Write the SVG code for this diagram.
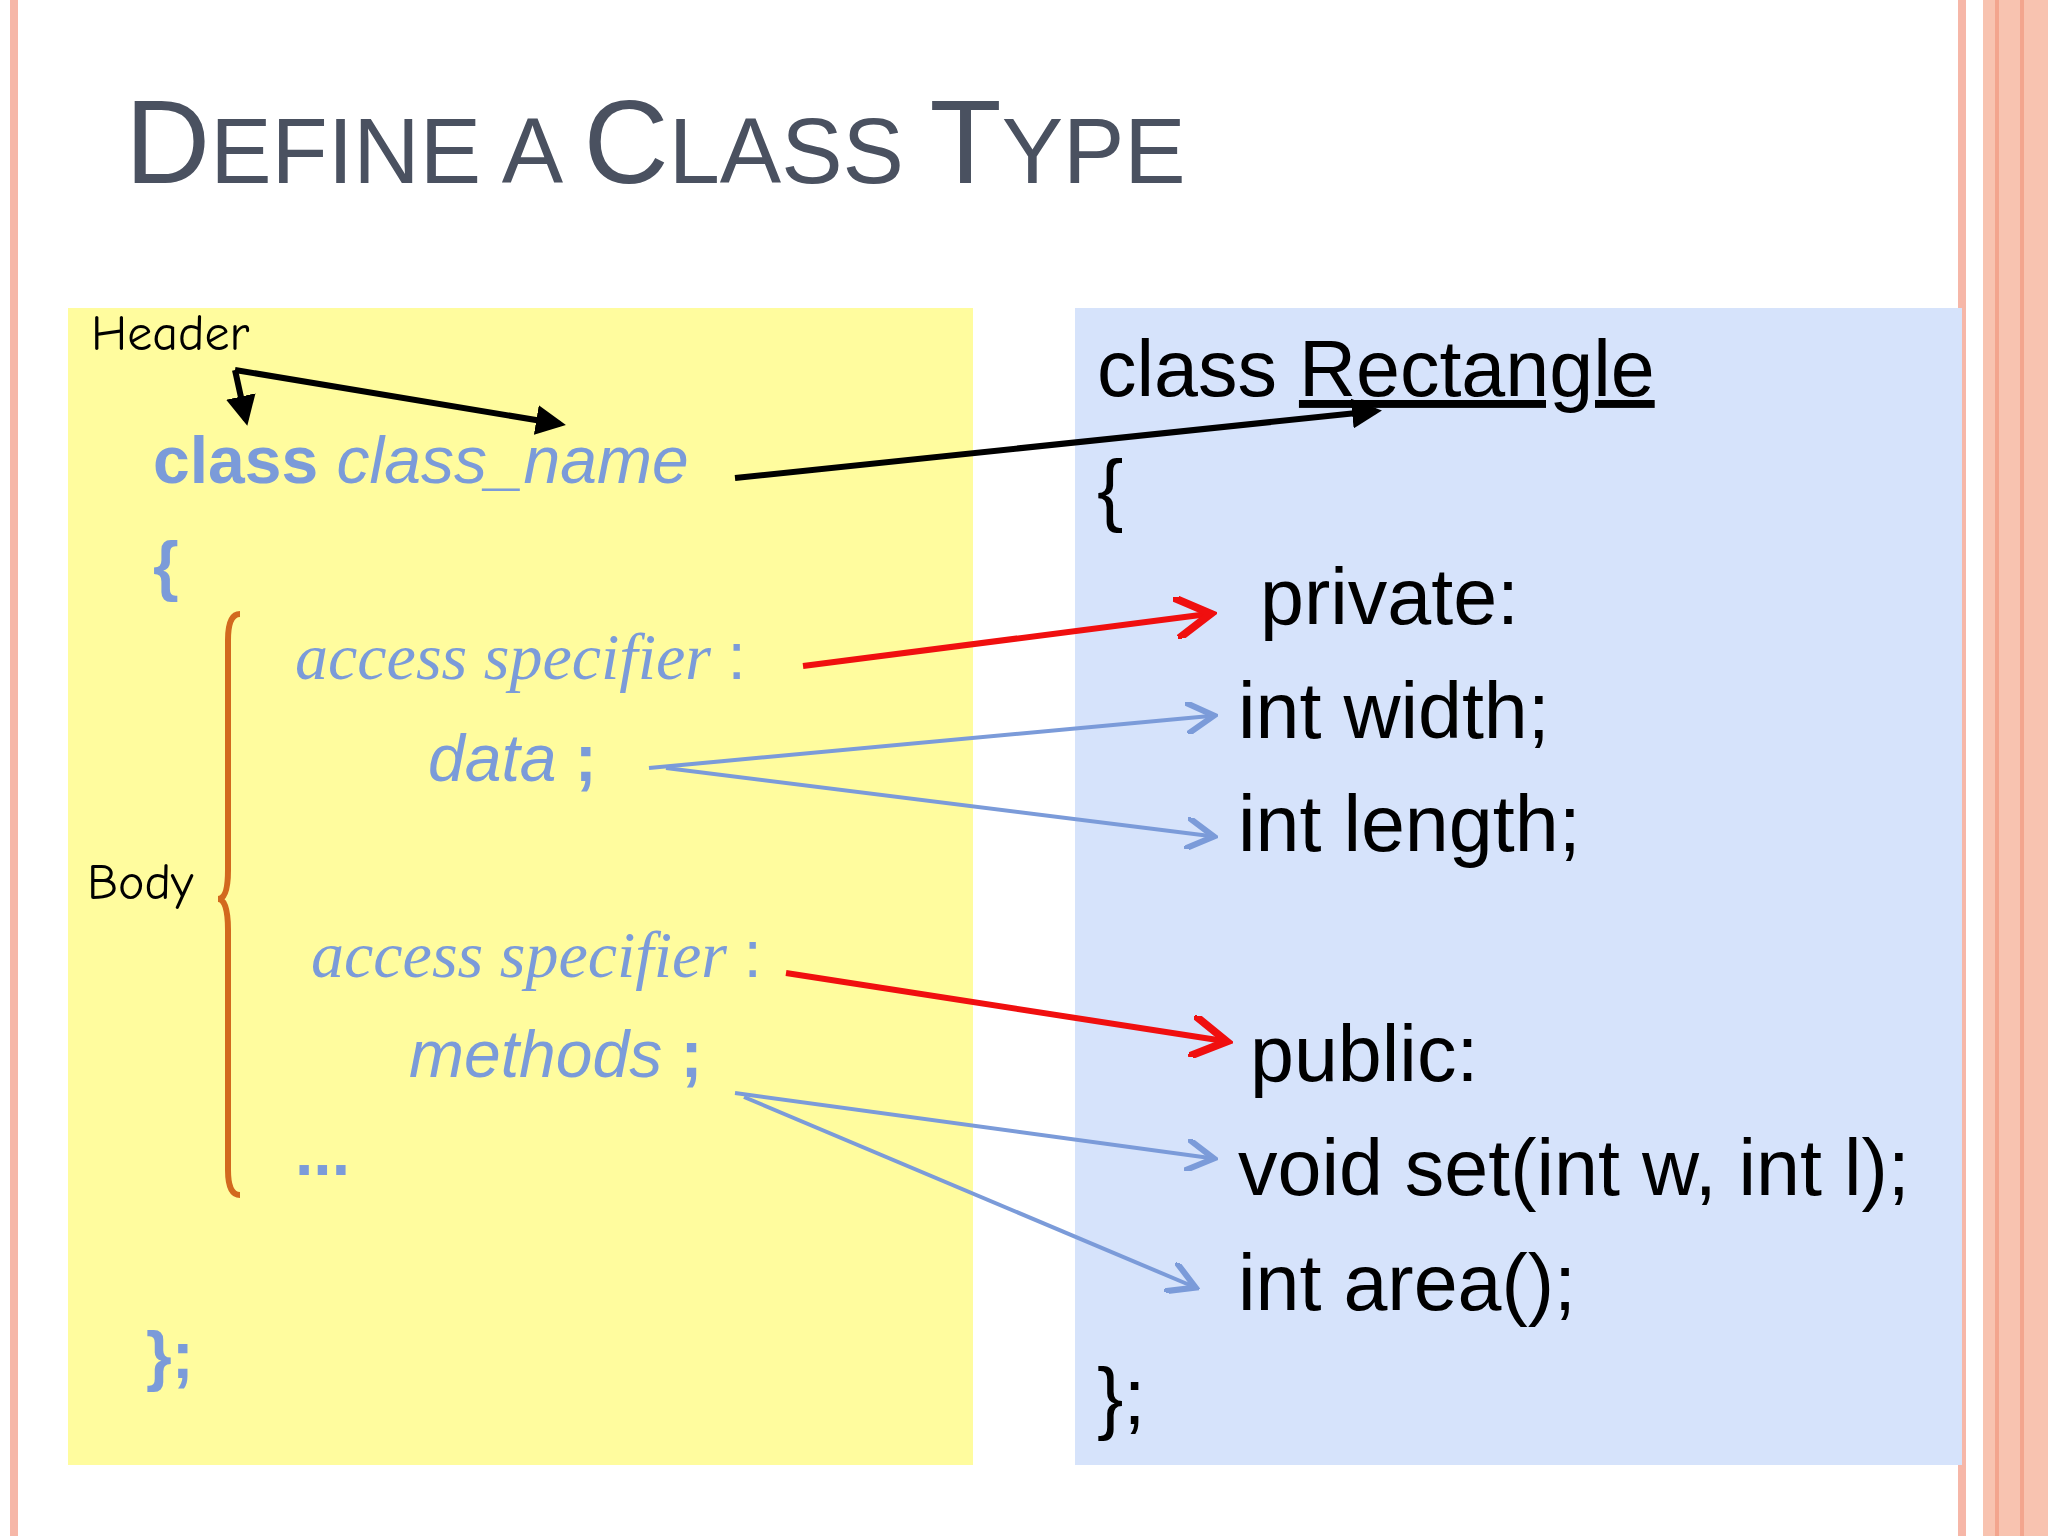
<svg xmlns="http://www.w3.org/2000/svg" width="2048" height="1536" viewBox="0 0 2048 1536">
<style>
.lt{fill:#7b9bd9;font-family:"Liberation Sans",Arial,sans-serif;font-size:66px}
.ser{fill:#7b9bd9;font-family:"Liberation Serif","Times New Roman",serif;font-style:italic;font-size:66px}
.rt{fill:#000;font-family:"Liberation Sans",Arial,sans-serif;font-size:79px}
.hand{fill:#000;font-family:"Comic Neue","DejaVu Sans",sans-serif;font-size:50px}
.blk{stroke:#000;stroke-width:6;fill:none}
.red{stroke:#f00f0f;stroke-width:6;fill:none}
.blu{stroke:#7b9bd9;stroke-width:4;fill:none}
</style>
<defs>
<marker id="ab" markerWidth="5" markerHeight="5" refX="4" refY="2.5" orient="auto" markerUnits="strokeWidth"><path d="M0,0 L5,2.5 L0,5 z" fill="#000"/></marker>
<marker id="ar" markerWidth="7" markerHeight="7" refX="5.5" refY="3.5" orient="auto" markerUnits="strokeWidth"><path d="M0,0 L6,3.5 L0,7" fill="none" stroke="#f00f0f" stroke-width="1.3"/></marker>
<marker id="au" markerWidth="8" markerHeight="8" refX="6" refY="4" orient="auto" markerUnits="strokeWidth"><path d="M0,0 L7,4 L0,8" fill="none" stroke="#7b9bd9" stroke-width="1.5"/></marker>
</defs>
<rect width="2048" height="1536" fill="#fff"/>
<rect x="10" y="0" width="8" height="1536" fill="#f6b7a8"/>
<rect x="1958" y="0" width="8" height="1536" fill="#f6b7a8"/>
<rect x="1983" y="0" width="65" height="1536" fill="#f8c3b0"/>
<rect x="1995" y="0" width="4" height="1536" fill="#f3a58e"/>
<rect x="2020" y="0" width="4" height="1536" fill="#f3a58e"/>
<text x="125" y="183" fill="#4a5160" font-family="Liberation Sans,Arial,sans-serif" font-size="118">D<tspan font-size="92">EFINE A </tspan>C<tspan font-size="92">LASS </tspan>T<tspan font-size="92">YPE</tspan></text>
<g id="left"><rect x="68" y="308" width="905" height="1157" fill="#fffc9e"/></g>
<g id="right"><rect x="1075" y="308" width="887" height="1157" fill="#d6e3fb"/></g>
<g id="labels">
<text class="hand" x="91" y="350">Header</text>
<text class="hand" x="87" y="899">Body</text>
<path d="M240,614 Q228,614 228,640 L228,870 Q228,899 218,899 Q228,899 228,930 L228,1170 Q228,1195 240,1195" fill="none" stroke="#d2691e" stroke-width="6"/>
</g>
<g id="lefttext">
<text class="lt" x="153" y="483"><tspan font-weight="bold">class</tspan> <tspan font-style="italic">class_name</tspan></text>
<text class="lt" x="153" y="588" font-weight="bold">{</text>
<text class="ser" x="295" y="679">access specifier <tspan font-family="Liberation Sans,Arial,sans-serif" font-style="normal">:</tspan></text>
<text class="lt" x="428" y="781" font-style="italic">data <tspan font-style="normal" font-weight="bold">;</tspan></text>
<text class="ser" x="311" y="977">access specifier <tspan font-family="Liberation Sans,Arial,sans-serif" font-style="normal">:</tspan></text>
<text class="lt" x="409" y="1077" font-style="italic">methods <tspan font-style="normal" font-weight="bold">;</tspan></text>
<text class="lt" x="295" y="1175" font-weight="bold">...</text>
<text class="lt" x="146" y="1378" font-weight="bold">};</text>
</g>
<g id="righttext">
<text class="rt" x="1097" y="396">class <tspan text-decoration="underline">Rectangle</tspan></text>
<text class="rt" x="1097" y="516">{</text>
<text class="rt" x="1260" y="624">private:</text>
<text class="rt" x="1238" y="738">int width;</text>
<text class="rt" x="1238" y="851">int length;</text>
<text class="rt" x="1250" y="1081">public:</text>
<text class="rt" x="1238" y="1195">void set(int w, int l);</text>
<text class="rt" x="1238" y="1310">int area();</text>
<text class="rt" x="1097" y="1424">};</text>
</g>
<g id="connectors">
<line class="blk" x1="235" y1="370" x2="246" y2="420" marker-end="url(#ab)"/>
<line class="blk" x1="235" y1="370" x2="560" y2="424" marker-end="url(#ab)"/>
<line class="blk" x1="735" y1="478" x2="1376" y2="411" marker-end="url(#ab)"/>
<line class="red" x1="803" y1="666" x2="1208" y2="614" marker-end="url(#ar)"/>
<line class="red" x1="786" y1="973" x2="1224" y2="1041" marker-end="url(#ar)"/>
<line class="blu" x1="649" y1="768" x2="1210" y2="716" marker-end="url(#au)"/>
<line class="blu" x1="666" y1="768" x2="1210" y2="836" marker-end="url(#au)"/>
<line class="blu" x1="735" y1="1093" x2="1210" y2="1158" marker-end="url(#au)"/>
<line class="blu" x1="744" y1="1097" x2="1192" y2="1286" marker-end="url(#au)"/>
</g>
</svg>
